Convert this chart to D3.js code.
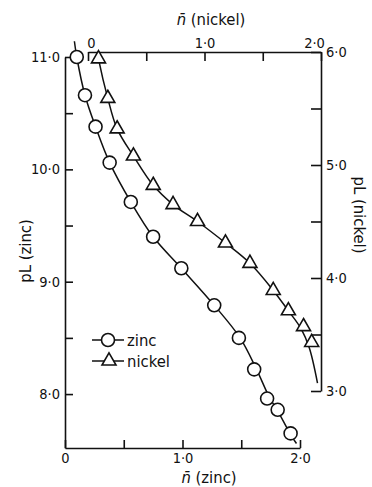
<!DOCTYPE html>
<html>
<head>
<meta charset="utf-8">
<script src="https://cdn.jsdelivr.net/npm/d3@7"></script>
<style>
  body { margin: 0; background: #fff; }
  svg { display: block; }
  text { font-family: "DejaVu Sans Condensed", "DejaVu Sans", sans-serif; fill: #111; }
  .axis path, .axis line { stroke: #111; stroke-width: 1.6; }
  .axis text { font-size: 14.5px; }
  .axislabel { font-size: 16.5px; }
</style>
</head>
<body>
<div id="chart"></div>
<script>
// zinc: n-bar (bottom axis) vs pL (left axis)
var zincN  = [0.10, 0.17, 0.26, 0.38, 0.56, 0.75, 0.99, 1.27, 1.48, 1.61, 1.72, 1.81, 1.92];
var zincPL = [11.00, 10.66, 10.38, 10.06, 9.71, 9.40, 9.12, 8.79, 8.50, 8.22, 7.96, 7.86, 7.65];

// nickel: n-bar (top axis) vs pL (right axis)
var nickelN  = [0.09, 0.17, 0.25, 0.39, 0.56, 0.73, 0.94, 1.18, 1.39, 1.59, 1.72, 1.85, 1.92];
var nickelPL = [5.94, 5.59, 5.32, 5.08, 4.82, 4.65, 4.50, 4.31, 4.13, 3.89, 3.71, 3.57, 3.43];

// hand-drawn fitted curves
var zincCurveN  = [0.08, 0.10, 0.17, 0.26, 0.38, 0.56, 0.75, 0.99, 1.27, 1.49, 1.63, 1.74, 1.81, 1.92, 1.97];
var zincCurvePL = [11.14, 11.00, 10.66, 10.38, 10.06, 9.71, 9.40, 9.12, 8.79, 8.50, 8.22, 7.97, 7.85, 7.64, 7.56];
var nickelCurveN  = [0.08, 0.09, 0.17, 0.25, 0.39, 0.56, 0.73, 0.94, 1.18, 1.39, 1.59, 1.72, 1.83, 1.90, 1.97];
var nickelCurvePL = [6.00, 5.94, 5.59, 5.32, 5.08, 4.82, 4.65, 4.50, 4.31, 4.13, 3.89, 3.71, 3.55, 3.38, 3.07];

// tick values
var nTicks = [0, 0.5, 1.0, 1.5, 2.0];
var zincPLTicks = [8.0, 8.5, 9.0, 9.5, 10.0, 10.5, 11.0];
var nickelPLTicks = [3.0, 3.5, 4.0, 4.5, 5.0, 5.5, 6.0];

var width = 372;
var height = 487;

var xZinc = d3.scaleLinear().domain([0, 2]).range([65, 300]);
var yZinc = d3.scaleLinear().domain([7.52, 11.0]).range([448, 57]);
var xNickel = d3.scaleLinear().domain([0, 2]).range([88, 321]);
var yNickel = d3.scaleLinear().domain([3.0, 6.0]).range([391, 52]);

// 1.0 -> "1·0", halves unlabeled
function fmt(d) {
  if (Math.abs(d - Math.round(d)) > 1e-6) return "";
  return d3.format(".1f")(d).replace(".", "\u00b7");
}

var svg = d3.select("#chart").append("svg")
  .attr("width", width)
  .attr("height", height);

// axes (ticks point inwards)
svg.append("g")
  .attr("class", "axis")
  .attr("transform", "translate(" + xZinc.range()[0] + ",0)")
  .call(d3.axisLeft(yZinc).tickValues(zincPLTicks).tickFormat(fmt).tickSizeInner(-8).tickSizeOuter(0).tickPadding(5));

svg.append("g")
  .attr("class", "axis")
  .attr("transform", "translate(0," + yZinc.range()[0] + ")")
  .call(d3.axisBottom(xZinc).tickValues(nTicks).tickFormat(d => d === 0 ? "0" : fmt(d)).tickSizeInner(-8).tickSizeOuter(0).tickPadding(5));

var topAxis = svg.append("g")
  .attr("class", "axis")
  .attr("transform", "translate(0," + yNickel.range()[1] + ")")
  .call(d3.axisTop(xNickel).tickValues(nTicks).tickFormat(d => d === 0 ? "0" : fmt(d)).tickSizeInner(-9).tickSizeOuter(0).tickPadding(4));
topAxis.selectAll(".tick text").filter(d => d === 2).attr("dx", -7);
topAxis.selectAll(".tick text").filter(d => d === 0).attr("dx", 3);

svg.append("g")
  .attr("class", "axis")
  .attr("transform", "translate(" + xNickel.range()[1] + ",0)")
  .call(d3.axisRight(yNickel).tickValues(nickelPLTicks).tickFormat(fmt).tickSizeInner(-10).tickSizeOuter(0).tickPadding(5));

svg.selectAll(".axis .domain").attr("fill", "none");

// axis titles
svg.append("text")
  .attr("class", "axislabel")
  .attr("x", 211).attr("y", 25)
  .attr("text-anchor", "middle")
  .html("<tspan font-style='italic'>n\u0304</tspan> (nickel)");

svg.append("text")
  .attr("class", "axislabel")
  .attr("x", 209).attr("y", 483)
  .attr("text-anchor", "middle")
  .html("<tspan font-style='italic'>n\u0304</tspan> (zinc)");

svg.append("text")
  .attr("class", "axislabel")
  .attr("transform", "translate(31,251) rotate(-90)")
  .attr("text-anchor", "middle")
  .text("pL (zinc)");

svg.append("text")
  .attr("class", "axislabel")
  .attr("transform", "translate(354,215) rotate(90)")
  .attr("text-anchor", "middle")
  .text("pL (nickel)");

// curves
var zincLine = d3.line()
  .x(function(d, i) { return xZinc(zincCurveN[i]); })
  .y(function(d) { return yZinc(d); })
  .curve(d3.curveCatmullRom);

var nickelLine = d3.line()
  .x(function(d, i) { return xNickel(nickelCurveN[i]); })
  .y(function(d) { return yNickel(d); })
  .curve(d3.curveCatmullRom);

svg.append("path")
  .attr("d", zincLine(zincCurvePL))
  .attr("fill", "none").attr("stroke", "#111").attr("stroke-width", 1.5);

svg.append("path")
  .attr("d", nickelLine(nickelCurvePL))
  .attr("fill", "none").attr("stroke", "#111").attr("stroke-width", 1.5);

// markers
svg.selectAll(".zinc")
  .data(zincPL)
  .enter()
  .append("circle")
  .attr("class", "zinc")
  .attr("cx", function(d, i) { return xZinc(zincN[i]); })
  .attr("cy", function(d) { return yZinc(d); })
  .attr("r", 6.5)
  .attr("fill", "#fff").attr("stroke", "#111").attr("stroke-width", 1.6);

var tri = d3.symbol().type(d3.symbolTriangle).size(85);

svg.selectAll(".nickel")
  .data(nickelPL)
  .enter()
  .append("path")
  .attr("class", "nickel")
  .attr("d", tri)
  .attr("transform", function(d, i) { return "translate(" + xNickel(nickelN[i]) + "," + yNickel(d) + ")"; })
  .attr("fill", "#fff").attr("stroke", "#111").attr("stroke-width", 1.6);

// legend
var legend = [["zinc", 340], ["nickel", 361]];
legend.forEach(function(l, i) {
  var g = svg.append("g").attr("transform", "translate(0," + l[1] + ")");
  g.append("line").attr("x1", 92).attr("x2", 124).attr("y1", 0).attr("y2", 0)
    .attr("stroke", "#111").attr("stroke-width", 1.5);
  if (i === 0) {
    g.append("circle").attr("cx", 108).attr("cy", 0).attr("r", 6.5)
      .attr("fill", "#fff").attr("stroke", "#111").attr("stroke-width", 1.6);
  } else {
    g.append("path").attr("d", tri).attr("transform", "translate(109,0)")
      .attr("fill", "#fff").attr("stroke", "#111").attr("stroke-width", 1.6);
  }
  g.append("text").attr("x", 127).attr("y", 0).attr("dy", "0.35em")
    .attr("class", "axislabel").text(l[0]);
});
</script>
</body>
</html>
